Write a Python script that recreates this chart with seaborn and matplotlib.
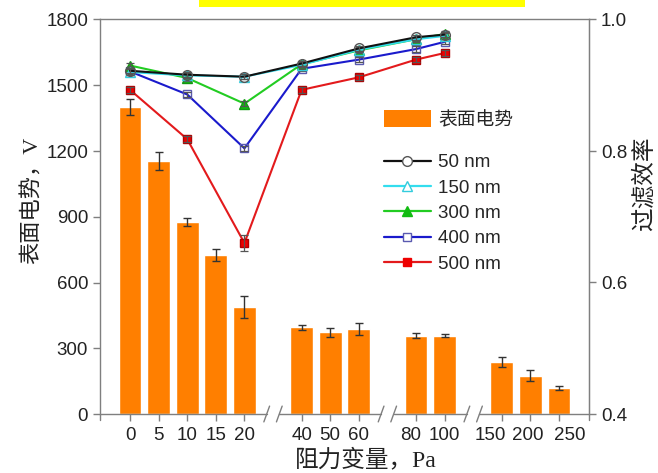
import numpy as np
import pandas as pd
import matplotlib
matplotlib.use("Agg")
import matplotlib.pyplot as plt
import seaborn as sns
from matplotlib.patches import Rectangle, Patch
from matplotlib.lines import Line2D
from matplotlib.transforms import blended_transform_factory, ScaledTranslation

# Resistance levels (Pa) and their slot on the broken x axis
pressure_labels = ["0", "5", "10", "15", "20", "40", "50", "60", "80", "100", "150", "200", "250"]
bar_slots = [0, 1, 2, 3, 4, 6, 7, 8, 10, 11, 13, 14, 15]
surface_potential = [1400, 1155, 875, 725, 490, 395, 372, 388, 358, 358, 238, 175, 118]
potential_err = [37, 40, 18, 28, 50, 10, 20, 28, 10, 7, 24, 24, 9]

# Filtration efficiency at 0, 10, 20, 40, 60, 80, 100 Pa
eff_slots = [0, 2, 4, 6, 8, 10, 11]
eff_50 = [0.922, 0.916, 0.913, 0.933, 0.956, 0.973, 0.977]
eff_150 = [0.920, 0.915, 0.913, 0.931, 0.954, 0.970, 0.975]
eff_300 = [0.930, 0.911, 0.872, 0.932, 0.953, 0.970, 0.978]
eff_400 = [0.921, 0.886, 0.804, 0.925, 0.939, 0.955, 0.966]
eff_500 = [0.893, 0.818, 0.660, 0.893, 0.912, 0.939, 0.949]
eff_500_err = [0.005, 0.005, 0.012, 0.005, 0.004, 0.004, 0.004]
size_labels = ["50 nm", "150 nm", "300 nm", "400 nm", "500 nm"]

break_slots = [5, 9, 12]

sns.set_style("white")
plt.rcParams["font.family"] = ["Liberation Sans", "Noto Sans CJK SC"]

BAR = "#FF7F00"
SPINE = "#7f7f7f"
TXT = "#222222"
TICK_FS = 13.5

fig = plt.figure(figsize=(6.58, 4.73), dpi=100)
ax = fig.add_axes([100 / 658, 1 - 414 / 473, (589 - 100) / 658, (414 - 19.5) / 473])

bars = pd.DataFrame({"slot": bar_slots, "potential": surface_potential})
sns.barplot(data=bars, x="slot", y="potential", native_scale=True, color=BAR,
            saturation=1, errorbar=None, width=0.8, ax=ax, zorder=2)
ax.errorbar(bar_slots, surface_potential, yerr=potential_err, fmt="none",
            ecolor="#333333", elinewidth=1.0, capsize=3, capthick=1.0, zorder=3)

xmin, xmax = -1.05, 16.05
ax.set_xlim(xmin, xmax)
ax.set_ylim(0, 1800)
ax.set_yticks(range(0, 1801, 300))
ax.set_xticks(bar_slots)
ax.set_xticklabels(pressure_labels)
ax.set_xlabel("")
ax.set_ylabel("")

for s in ["left", "top", "right"]:
    ax.spines[s].set_color(SPINE)
    ax.spines[s].set_linewidth(1.0)
ax.spines["bottom"].set_visible(False)

# Bottom axis line with breaks
tr = blended_transform_factory(ax.transData, ax.transAxes)
gap = 0.22
edges = [xmin] + [v for b in break_slots for v in (b - gap, b + gap)] + [xmax]
for a, b in zip(edges[::2], edges[1::2]):
    ax.plot([a, b], [0, 0], color=SPINE, lw=1.0, transform=tr, clip_on=False, zorder=5)
for b in break_slots:
    for c in (b - gap, b + gap):
        ax.plot([c - 0.1, c + 0.1], [-0.02, 0.02], color=SPINE, lw=1.0,
                transform=tr, clip_on=False, zorder=5)
for c in (xmin, xmax):
    ax.plot([c, c], [0, -0.014], color=SPINE, lw=1.0, transform=tr, clip_on=False)

ax.tick_params(axis="both", which="major", direction="out", length=5, width=1.0,
               color=SPINE, labelsize=TICK_FS, labelcolor=TXT, bottom=True, left=True)
ax.tick_params(axis="x", pad=4)

# Spread the crowded labels of the last groups slightly apart
label_shift = {"80": -5, "150": -11, "200": -3, "250": 11}
for lab in ax.get_xticklabels():
    dx = label_shift.get(lab.get_text(), 0)
    if dx:
        lab.set_transform(lab.get_transform() + ScaledTranslation(dx / 100, 0, fig.dpi_scale_trans))

ax2 = ax.twinx()
ax2.set_ylim(0.4, 1.0)
ax2.set_yticks([0.4, 0.6, 0.8, 1.0])
ax2.set_yticklabels(["0.4", "0.6", "0.8", "1.0"])
for s in ["left", "top", "right", "bottom"]:
    ax2.spines[s].set_visible(False)
ax2.spines["right"].set_visible(True)
ax2.spines["right"].set_color(SPINE)
ax2.tick_params(axis="y", direction="out", length=5, width=1.0, color=SPINE,
                labelsize=TICK_FS, labelcolor=TXT, right=True)

series = [
    (eff_500, "#E31A1C", "s", "#EE0000", "#B00000", 5.5),
    (eff_400, "#1A1ACC", "s", "none", "#5A5AB0", 5.5),
    (eff_300, "#22CC22", "^", "#11BB11", "#119911", 6.5),
    (eff_150, "#33DDEE", "^", "none", "#33CCDD", 6.5),
    (eff_50, "#111111", "o", "none", "#555555", 7),
]
for vals, col, mk, mfc, mec, ms in series:
    df = pd.DataFrame({"slot": eff_slots, "eff": vals})
    sns.lineplot(data=df, x="slot", y="eff", color=col, lw=1.5, marker=mk,
                 markersize=ms, markerfacecolor=mfc, markeredgecolor=mec,
                 markeredgewidth=1.0, ax=ax2, errorbar=None, zorder=4)
    err = eff_500_err if vals is eff_500 else [0.004] * len(vals)
    ax2.errorbar(eff_slots, vals, yerr=err, fmt="none", ecolor="#555555",
                 elinewidth=0.9, capsize=3, capthick=0.9, zorder=4)
ax2.set_xlim(xmin, xmax)
ax2.set_xlabel("")
ax2.set_ylabel("")

# Legends
leg1 = ax2.legend(handles=[Patch(facecolor=BAR, edgecolor="none")], labels=["表面电势"],
                  loc="upper left", bbox_to_anchor=(384 / 658, 1 - 110 / 473),
                  bbox_transform=fig.transFigure, frameon=False, fontsize=13.5,
                  handlelength=2.5, handleheight=1.0, handletextpad=0.4,
                  borderpad=0, borderaxespad=0)
ax2.add_artist(leg1)
line_handles = [
    Line2D([], [], color="#111111", lw=1.6, marker="o", mfc="white", mec="#555555", ms=7),
    Line2D([], [], color="#33DDEE", lw=1.6, marker="^", mfc="white", mec="#33CCDD", ms=7),
    Line2D([], [], color="#22CC22", lw=1.6, marker="^", mfc="#11BB11", mec="#11BB11", ms=7),
    Line2D([], [], color="#1A1ACC", lw=1.6, marker="s", mfc="white", mec="#5A5AB0", ms=6),
    Line2D([], [], color="#E31A1C", lw=1.6, marker="s", mfc="#EE0000", mec="#EE0000", ms=6),
]
ax2.legend(handles=line_handles, labels=size_labels, loc="upper left",
           bbox_to_anchor=(384 / 658, 1 - 154 / 473), bbox_transform=fig.transFigure,
           frameon=False, fontsize=13.5, handlelength=2.5, handletextpad=0.4,
           labelspacing=0.44, borderpad=0, borderaxespad=0)

# Axis titles
fig.text(32 / 658, 1 - 200 / 473, "表面电势，V", rotation=90, ha="center", va="center",
         fontsize=16, color=TXT, family=["Liberation Serif", "Noto Sans CJK SC"])
fig.text(644 / 658, 1 - 184 / 473, "过滤效率", rotation=90, ha="center", va="center",
         fontsize=17, color=TXT, family=["Noto Sans CJK SC"])
fig.text(366 / 658, 1 - 460 / 473, "阻力变量，Pa", ha="center", va="center",
         fontsize=17, color=TXT, family=["Liberation Serif", "Noto Sans CJK SC"])

# Highlight strip along the top edge
fig.add_artist(Rectangle((199 / 658, 1 - 7 / 473), (525 - 199) / 658, 7 / 473,
                         transform=fig.transFigure, facecolor="#FFFF00", edgecolor="none"))

fig.savefig("out.png", dpi=100)
